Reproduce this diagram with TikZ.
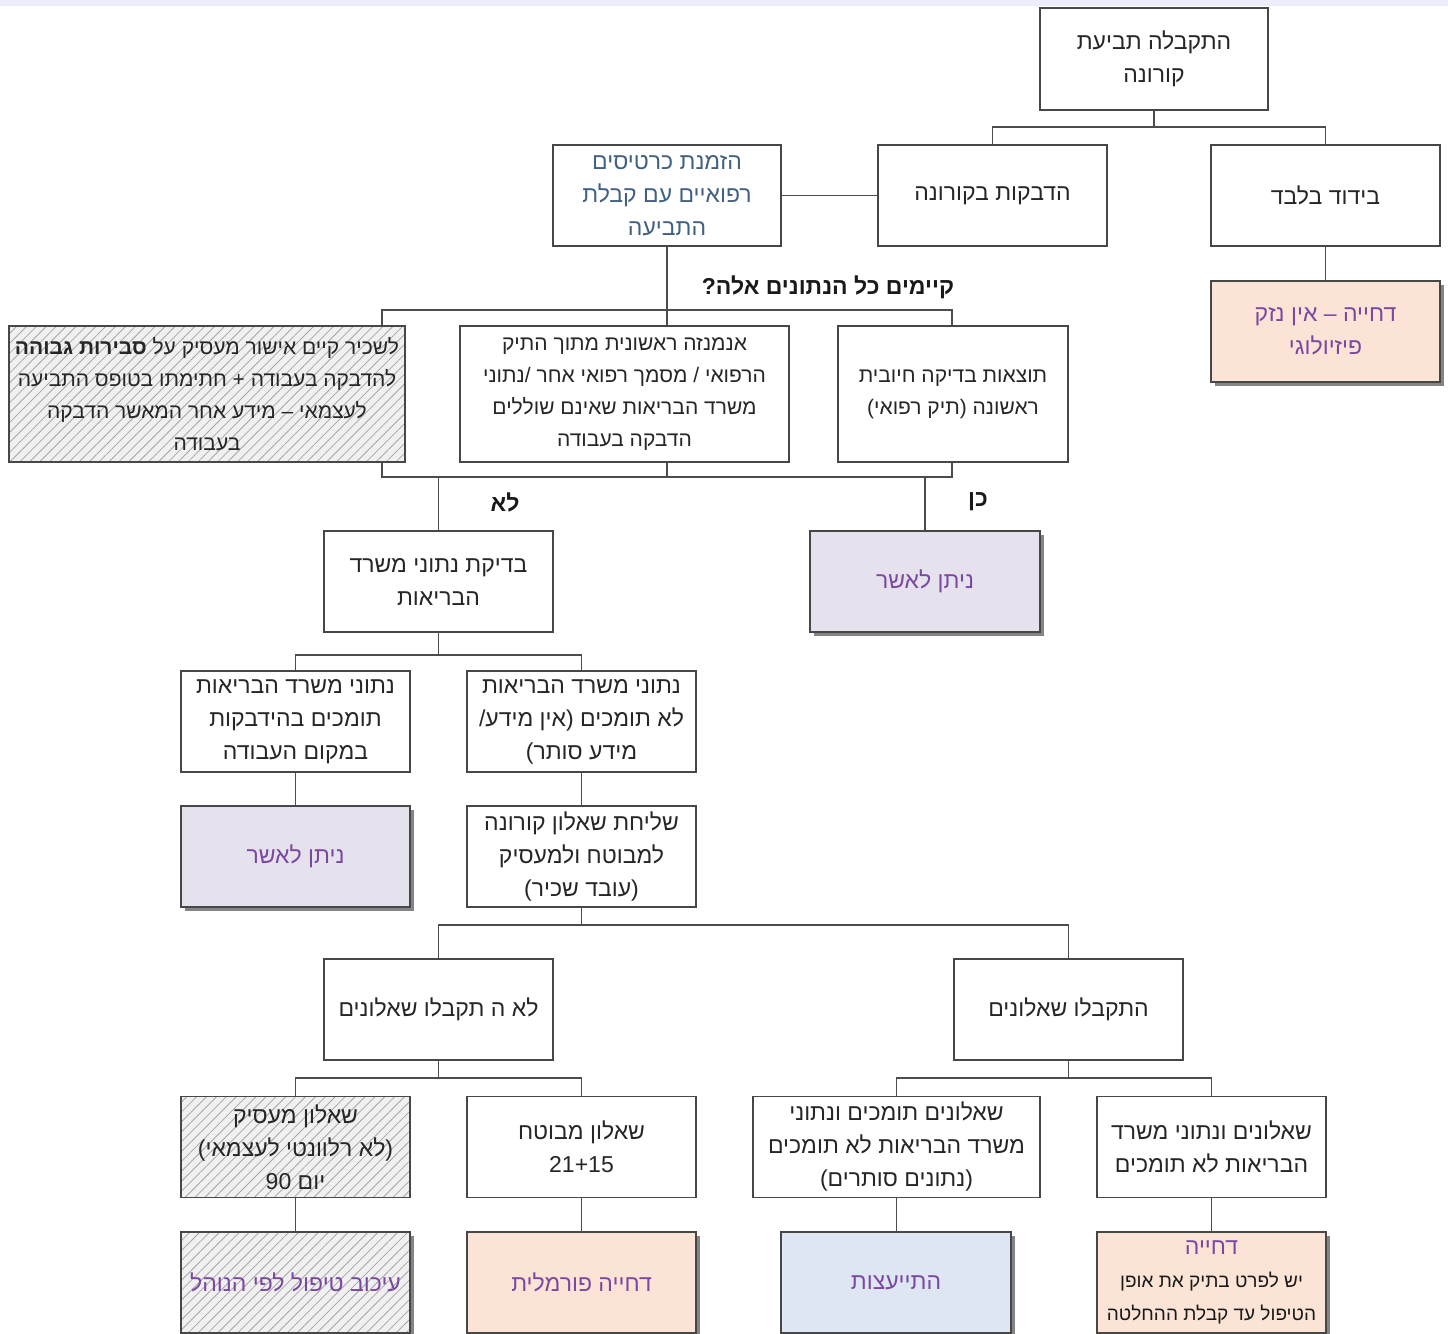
\documentclass[tikz,border=0pt]{standalone}
\usepackage{fontspec}
\setmainfont{Liberation Sans}
\newfontfamily\hebfont[Script=Hebrew]{Liberation Sans}
\TeXXeTstate=1
\usetikzlibrary{patterns.meta,shadows}
\newcommand\heb[1]{\beginR #1\endR}
\definecolor{peach}{RGB}{251,228,213}
\definecolor{lav}{RGB}{229,226,238}
\definecolor{lblue}{RGB}{221,230,242}
\definecolor{hatchbg}{RGB}{240,240,240}
\definecolor{purpl}{RGB}{122,72,160}
\definecolor{bluegray}{RGB}{66,96,128}
\definecolor{topband}{RGB}{236,236,250}
\tikzset{
  box/.style={draw=black!72, line width=1.4pt, fill=white, align=center, inner sep=3pt,
    text=black!85, font=\hebfont\fontsize{23}{33}\selectfont,
    minimum width=229pt, minimum height=101pt},
  res/.style={box, text=purpl, drop shadow={shadow xshift=4pt, shadow yshift=-4pt, fill=black!60, opacity=0.8}},
  hatch/.style={preaction={fill=hatchbg}, pattern={Lines[angle=45,distance=7pt,line width=0.8pt]}, pattern color=black!35},
  conn/.style={draw=black!70, line width=1.3pt},
  lab/.style={font=\hebfont\bfseries\fontsize{23}{28}\selectfont, text=black!90, inner sep=1pt},
}
\begin{document}
\begin{tikzpicture}[x=1pt,y=-1pt]
\useasboundingbox (0,0) rectangle (1448,1333);
\fill[white] (0,0) rectangle (1448,1333);
\fill[topband] (0,0) rectangle (1448,6);

% row 1
\node[box, minimum width=228pt, minimum height=102pt] (top) at (1154,59) {\heb{התקבלה תביעת}\\\heb{קורונה}};
\node[box] (isol) at (1325.5,195.5) {\heb{בידוד בלבד}};
\node[box] (infect) at (992.5,195.5) {\heb{הדבקות בקורונה}};
\node[box, text=bluegray, minimum width=228pt] (order) at (667,195.5) {\heb{הזמנת כרטיסים}\\\heb{רפואיים עם קבלת}\\\heb{התביעה}};
\node[res, fill=peach] (rej1) at (1325.5,331.5) {\heb{דחייה – אין נזק}\\\heb{פיזיולוגי}};

% question
\node[lab] (q) at (828,287) {\heb{קיימים כל הנתונים אלה?}};

% conditions
\node[box, hatch, minimum width=396pt, minimum height=136pt, font=\hebfont\fontsize{21}{32}\selectfont] (emp) at (207,394)
  {\heb{לשכיר קיים אישור מעסיק על \textbf{סבירות גבוהה}}\\\heb{להדבקה בעבודה + חתימתו בטופס התביעה}\\\heb{לעצמאי – מידע אחר המאשר הדבקה}\\\heb{בעבודה}};
\node[box, minimum width=329pt, minimum height=136pt, font=\hebfont\fontsize{21}{32}\selectfont] (anam) at (624.5,394)
  {\heb{אנמנזה ראשונית מתוך התיק}\\\heb{הרפואי / מסמך רפואי אחר /נתוני}\\\heb{משרד הבריאות שאינם שוללים}\\\heb{הדבקה בעבודה}};
\node[box, minimum width=230pt, minimum height=136pt, font=\hebfont\fontsize{21}{32}\selectfont] (pos) at (953,394)
  {\heb{תוצאות בדיקה חיובית}\\\heb{ראשונה (תיק רפואי)}};

\node[lab] (no) at (505,502) {\heb{לא}};
\node[lab] (yes) at (978,502) {\heb{כן}};

\node[box] (check) at (438.5,581.5) {\heb{בדיקת נתוני משרד}\\\heb{הבריאות}};
\node[res, fill=lav, minimum width=230pt] (app1) at (925,581.5) {\heb{ניתן לאשר}};

\node[box] (sup) at (295.5,721.5) {\heb{נתוני משרד הבריאות}\\\heb{תומכים בהידבקות}\\\heb{במקום העבודה}};
\node[box] (nosup) at (581.5,721.5) {\heb{נתוני משרד הבריאות}\\\heb{לא תומכים (אין מידע/}\\\heb{מידע סותר)}};
\node[res, fill=lav] (app2) at (295.5,856.5) {\heb{ניתן לאשר}};
\node[box] (send) at (581.5,856.5) {\heb{שליחת שאלון קורונה}\\\heb{למבוטח ולמעסיק}\\\heb{(עובד שכיר)}};

\node[box] (norecv) at (438.5,1009.5) {\heb{לא ה תקבלו שאלונים}};
\node[box] (recv) at (1068.5,1009.5) {\heb{התקבלו שאלונים}};

\node[box, hatch] (empq) at (295.5,1147) {\heb{שאלון מעסיק}\\\heb{(לא רלוונטי לעצמאי)}\\\heb{יום \beginL 90\endL}};
\node[box] (insq) at (581.5,1147) {\heb{שאלון מבוטח}\\21+15};
\node[box, minimum width=287pt] (contra) at (896.5,1147) {\heb{שאלונים תומכים ונתוני}\\\heb{משרד הבריאות לא תומכים}\\\heb{(נתונים סותרים)}};
\node[box] (both) at (1211.5,1147) {\heb{שאלונים ונתוני משרד}\\\heb{הבריאות לא תומכים}};

\node[res, hatch] (delay) at (295.5,1282.5) {\heb{עיכוב טיפול לפי הנוהל}};
\node[res, fill=peach] (formal) at (581.5,1282.5) {\heb{דחייה פורמלית}};
\node[res, fill=lblue, minimum width=230pt] (cons) at (896,1282.5) {\heb{התייעצות}};
\node[res, fill=peach] (rej2) at (1211.5,1282.5) {\heb{דחייה}\\{\color{black!90}\fontsize{19}{31}\selectfont\heb{יש לפרט בתיק את אופן}}\\{\color{black!90}\fontsize{19}{31}\selectfont\heb{הטיפול עד קבלת ההחלטה}}};

% connectors
\coordinate (bA) at (1154,127);
\draw[conn] (top.south) -- (bA);
\draw[conn] (infect.north) |- (bA) -| (isol.north);
\draw[conn] (infect.west) -- (order.east);
\draw[conn] (isol.south) -- (rej1.north);

\coordinate (bBl) at (382,310);
\coordinate (bBr) at (952,310);
\draw[conn] (order.south) -- (order.south |- anam.north);
\draw[conn] (bBl |- emp.north) -- (bBl) -- (bBr) -- (bBr |- pos.north);

\coordinate (bC) at (667,477);
\coordinate (bCl) at (382,477);
\coordinate (bCr) at (952,477);
\draw[conn] (bCl |- emp.south) -- (bCl) -- (bCr) -- (bCr |- pos.south);
\draw[conn] (bC |- anam.south) -- (bC);
\draw[conn] (check.north) -- (check.north |- bC);
\draw[conn] (app1.north) -- (app1.north |- bC);

\coordinate (bD) at (438.5,655);
\draw[conn] (check.south) -- (bD);
\draw[conn] (sup.north) |- (bD) -| (nosup.north);
\draw[conn] (sup.south) -- (app2.north);
\draw[conn] (nosup.south) -- (send.north);

\coordinate (bE) at (581.5,925);
\draw[conn] (send.south) -- (bE);
\draw[conn] (norecv.north) |- (bE) -| (recv.north);

\coordinate (bF) at (438.5,1078);
\draw[conn] (norecv.south) -- (bF);
\draw[conn] (empq.north) |- (bF) -| (insq.north);
\coordinate (bG) at (1068.5,1078);
\draw[conn] (recv.south) -- (bG);
\draw[conn] (contra.north) |- (bG) -| (both.north);

\draw[conn] (empq.south) -- (delay.north);
\draw[conn] (insq.south) -- (formal.north);
\draw[conn] (contra.south) -- (contra.south |- cons.north);
\draw[conn] (both.south) -- (rej2.north);
\end{tikzpicture}
\end{document}
